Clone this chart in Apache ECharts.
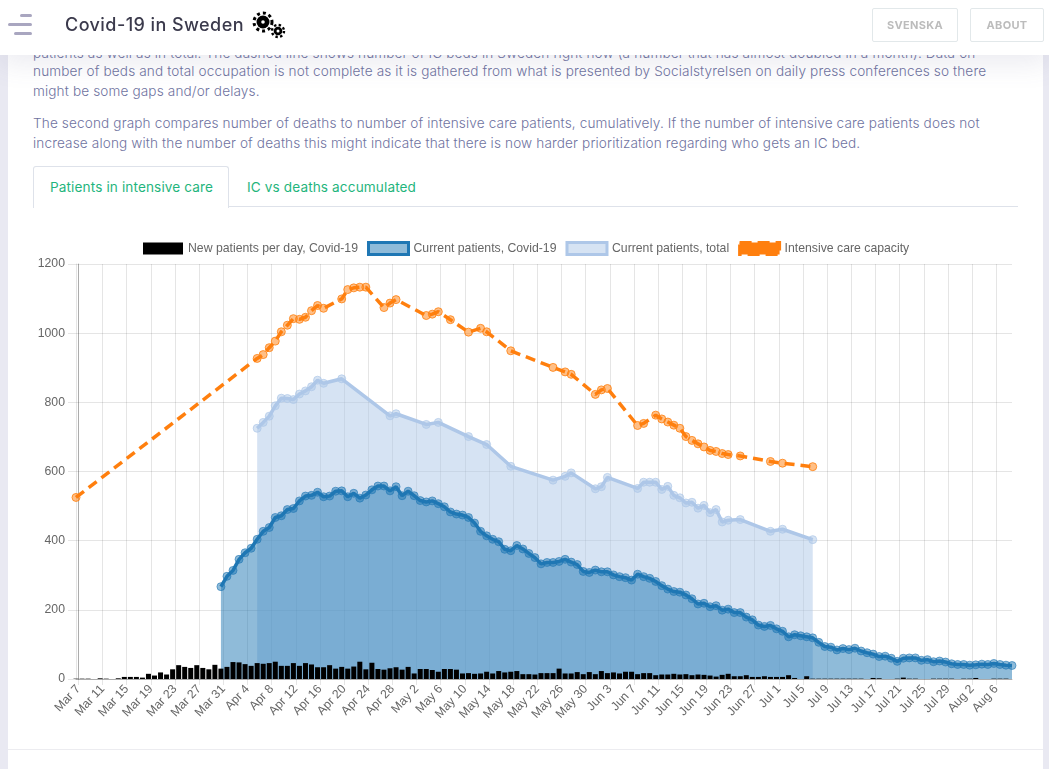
<!DOCTYPE html>
<html>
<head>
<meta charset="utf-8">
<title>Covid-19 in Sweden</title>
<script src="https://cdn.jsdelivr.net/npm/echarts@6/dist/echarts.min.js"></script>
<style>
html, body { margin: 0; padding: 0; width: 1049px; height: 769px; overflow: hidden; background: #e9e9f2; }
body { font-family: "Inter", sans-serif; }
#page { position: absolute; left: 8px; top: 0; width: 1035px; height: 769px; background: #fff; }
#main { position: absolute; left: 0; top: 0; width: 1049px; height: 769px; }
#top { position: absolute; left: 0; top: 0; width: 1049px; height: 55px; background: #fff; box-shadow: 0 8px 28px rgba(90,90,140,.13); }
.bar { position: absolute; height: 3px; border-radius: 2px; background: #a9a6c0; }
#title { position: absolute; left: 65px; top: 14px; font-size: 18px; font-weight: 500; color: #3b3a4c; white-space: nowrap; letter-spacing: .43px; }
.btn { position: absolute; top: 8px; height: 32px; border: 1px solid #e2e8ea; border-radius: 2px; font: 700 11px/32px "Inter"; color: #bcbcbc; text-align: center; letter-spacing: .3px; }
.txt { position: absolute; left: 33px; font-size: 13.6px; font-weight: 300; color: #6f739f; white-space: nowrap; line-height: 20px; letter-spacing: .13px; }
.tab { position: absolute; top: 179px; font-size: 13.6px; color: #1fb57d; white-space: nowrap; line-height: 16px; letter-spacing: .12px; }
#tabbox { position: absolute; left: 33px; top: 166px; width: 194px; height: 41px; border: 1px solid #dee2ea; border-bottom: 0; border-radius: 3px 3px 0 0; background: #fff; }
#tabline { position: absolute; left: 33px; top: 206px; width: 985px; height: 1px; background: #dee2ea; }
#foot { position: absolute; left: 8px; top: 749px; width: 1035px; height: 1px; background: #ececf0; }
</style>
</head>
<body>
<div id="page"></div>
<div class="txt" style="top:43px">patients as well as in total. The dashed line shows number of IC beds in Sweden right now (a number that has almost doubled in a month). Data on</div>
<div class="txt" style="top:61px">number of beds and total occupation is not complete as it is gathered from what is presented by Socialstyrelsen on daily press conferences so there</div>
<div class="txt" style="top:81px">might be some gaps and/or delays.</div>
<div class="txt" style="top:113px">The second graph compares number of deaths to number of intensive care patients, cumulatively. If the number of intensive care patients does not</div>
<div class="txt" style="top:133px">increase along with the number of deaths this might indicate that there is now harder prioritization regarding who gets an IC bed.</div>
<div id="tabline"></div>
<div id="tabbox"></div>
<div class="tab" style="left:50px">Patients in intensive care</div>
<div class="tab" style="left:247px">IC vs deaths accumulated</div>
<div id="foot"></div>
<div id="main"></div>
<div id="top">
  <div class="bar" style="left:20px;top:14px;width:12px"></div>
  <div class="bar" style="left:8px;top:23px;width:24px"></div>
  <div class="bar" style="left:14px;top:32px;width:18px"></div>
  <div id="title">Covid-19 in Sweden</div>
  <svg style="position:absolute;left:250px;top:10px" width="40" height="30">
    <circle cx="13" cy="12" r="6.5" fill="#000"/>
    <circle cx="13" cy="12" r="9" fill="none" stroke="#000" stroke-width="3" stroke-dasharray="3 3"/>
    <circle cx="13" cy="12" r="1.8" fill="#fff"/>
    <circle cx="28" cy="21" r="4.3" fill="#000"/>
    <circle cx="28" cy="21" r="6" fill="none" stroke="#000" stroke-width="2.4" stroke-dasharray="2.4 2.3"/>
    <circle cx="28" cy="21" r="1.5" fill="#fff"/>
  </svg>
  <div class="btn" style="left:872px;width:84px">SVENSKA</div>
  <div class="btn" style="left:970px;width:72px">ABOUT</div>
</div>
<script type="text/javascript">
// date labels, one per day from Mar 7 to Aug 9
var months = [['Mar', 7, 31], ['Apr', 1, 30], ['May', 1, 31], ['Jun', 1, 30], ['Jul', 1, 31], ['Aug', 1, 9]];
var categories = [];
months.forEach(function (m) {
    for (var d = m[1]; d <= m[2]; d++) categories.push(m[0] + ' ' + d);
});

var newPatients = [1, 1, 1, 0, 2, 1, 0, 2, 6, 6, 6, 4, 15, 10, 19, 13, 28, 40, 35, 32, 40, 32, 28, 41, 30, 35,
    49, 48, 43, 38, 46, 44, 46, 50, 38, 38, 46, 38, 46, 42, 34, 34, 40, 30, 35, 30, 36, 50, 28, 47, 29, 27,
    31, 34, 27, 35, 16, 29, 29, 26, 21, 29, 29, 27, 16, 17, 15, 16, 21, 16, 23, 19, 21, 23, 14, 14, 13, 17,
    17, 17, 30, 16, 16, 20, 14, 20, 14, 23, 17, 19, 16, 21, 21, 14, 17, 17, 11, 13, 13, 15, 13, 14, 11, 13,
    12, 10, 7, 12, 15, 8, 8, 11, 6, 6, 8, 6, 6, 6, 11, 3, 0, 8, 1, 1, 1, 1, 1, 1, 1, 1, 1, 0, 3, 2, 0, 0, 1,
    4, 1, 1, 0, 0, 1, 1, 1, 1, 0, 1, 1, 3, 0, 0, 1, 1, 1, 0];

// current patients start at index 24 (Mar 31)
var currentStart = 24;
var currentCovid = [267, 297, 314, 346, 365, 378, 404, 427, 438, 467, 472, 490, 493, 515, 529, 531, 540, 527,
    529, 543, 544, 527, 537, 523, 532, 547, 558, 558, 544, 556, 530, 543, 530, 516, 512, 515, 507, 498, 483,
    477, 474, 467, 451, 427, 414, 404, 397, 375, 371, 386, 376, 363, 351, 333, 337, 337, 340, 346, 338, 331,
    311, 308, 315, 310, 310, 301, 296, 293, 286, 303, 296, 291, 282, 270, 260, 253, 251, 243, 232, 217, 219,
    209, 212, 199, 202, 192, 192, 179, 171, 156, 152, 155, 145, 138, 122, 128, 125, 122, 119, 106, 94, 92,
    84, 88, 85, 89, 81, 76, 72, 65, 66, 60, 51, 60, 61, 61, 54, 56, 50, 52, 49, 44, 42, 42, 40, 41, 43, 42,
    45, 42, 40, 39];

// total and capacity are only reported on some days
var totalDays = [30, 31, 32, 33, 34, 35, 36, 37, 38, 39, 40, 41, 44, 52, 53, 58, 60, 65, 68, 72, 79, 81, 82, 86,
    87, 88, 93, 94, 95, 96, 97, 98, 99, 100, 101, 102, 103, 104, 105, 106, 107, 108, 110, 115, 117, 122];
var totalValues = [725, 742, 760, 790, 812, 811, 808, 824, 833, 845, 864, 855, 868, 761, 767, 736, 742, 701, 678,
    615, 575, 586, 596, 550, 556, 583, 551, 569, 569, 569, 548, 557, 531, 524, 509, 511, 494, 502, 481, 490,
    454, 459, 461, 427, 433, 403];

var capacityDays = [0, 30, 31, 32, 33, 34, 35, 36, 37, 38, 39, 40, 41, 44, 45, 46, 47, 48, 51, 52, 53, 58, 59, 60,
    62, 65, 67, 68, 72, 79, 81, 82, 86, 87, 88, 93, 94, 96, 97, 98, 99, 100, 101, 102, 103, 104, 105, 106, 107,
    108, 110, 115, 117, 122];
var capacityValues = [525, 927, 938, 958, 977, 1004, 1023, 1042, 1040, 1046, 1065, 1080, 1072, 1099, 1126, 1131,
    1133, 1133, 1074, 1087, 1097, 1051, 1055, 1062, 1039, 1003, 1014, 1004, 949, 901, 888, 881, 823, 836, 840,
    733, 739, 763, 752, 743, 734, 725, 701, 690, 680, 671, 661, 658, 652, 649, 645, 629, 624, 614];

var seriesNames = ['New patients per day, Covid-19', 'Current patients, Covid-19', 'Current patients, total', 'Intensive care capacity'];

function sparse(days, values) {
    var out = categories.map(function () { return null; });
    days.forEach(function (d, i) { out[d] = values[i]; });
    return out;
}
var currentData = categories.map(function (c, i) {
    var v = currentCovid[i - currentStart];
    return v === undefined ? null : v;
});

function lineSeries(name, data, color, fill, ring, z, dashed) {
    return {
        name: name, type: 'line', data: data, xAxisIndex: 0, yAxisIndex: 0, z: z,
        connectNulls: true, showAllSymbol: true, symbol: 'circle', symbolSize: 8,
        lineStyle: { color: color, width: 3.5, type: dashed ? [10, 6] : 'solid' },
        itemStyle: { color: fill, borderColor: ring, borderWidth: 1 },
        areaStyle: dashed ? undefined : { color: fill, opacity: 1, origin: 'start' }
    };
}

var myChart = echarts.init(document.getElementById('main'));
var tickColor = 'rgba(0,0,0,0.1)';
var strongColor = 'rgba(0,0,0,0.25)';
var labelSize = 12.25;
var option = {
    animation: false,
    textStyle: { fontFamily: 'Liberation Sans' },
    legend: {
        left: 138, top: 236, itemWidth: 40, itemHeight: 12, itemGap: 9, selectedMode: false,
        textStyle: { color: '#666', fontSize: labelSize, fontFamily: 'Liberation Sans' },
        data: [
            { name: seriesNames[0], icon: 'rect', itemStyle: { color: '#000', borderWidth: 0 } },
            { name: seriesNames[1], icon: 'rect', itemStyle: { color: 'rgba(31,119,180,0.5)', borderColor: '#1f77b4', borderWidth: 3 } },
            { name: seriesNames[2], icon: 'rect', itemStyle: { color: 'rgba(174,199,232,0.5)', borderColor: '#aec7e8', borderWidth: 3 } },
            { name: seriesNames[3], icon: 'rect', itemStyle: { color: '#ff7f0e', borderColor: '#ff7f0e', borderWidth: 3, borderType: 'dashed' } }
        ]
    },
    grid: [
        { left: 76, top: 264, width: 936, height: 415 },
        // tick labels and vertical lines sit a little right of the points, as in the original
        { left: 78.4, top: 264, width: 936, height: 415 }
    ],
    xAxis: [{
        type: 'category', gridIndex: 0, data: categories, boundaryGap: false,
        axisLine: { show: true, lineStyle: { color: strongColor, width: 1 } },
        axisTick: { show: false }, axisLabel: { show: false }, splitLine: { show: false }
    }, {
        type: 'category', gridIndex: 1, data: categories, boundaryGap: false,
        axisLine: { show: false },
        axisTick: { show: true, interval: 3, length: 6, lineStyle: { color: tickColor } },
        axisLabel: { interval: 3, rotate: 47, color: '#666', fontSize: labelSize, margin: 8, fontFamily: 'Liberation Sans' },
        splitLine: { show: true, interval: 3, lineStyle: { color: tickColor, width: 1 } }
    }],
    yAxis: [{
        type: 'value', gridIndex: 0, min: 0, max: 1200, interval: 200,
        axisLine: { show: true, lineStyle: { color: tickColor } },
        axisTick: { show: true, length: 8, lineStyle: { color: tickColor } },
        axisLabel: {
            color: '#666', fontSize: labelSize, margin: 11, fontFamily: 'Liberation Sans', padding: [2, 0, 0, 0],
            formatter: function (v) { return String(v); }
        },
        splitLine: { show: true, lineStyle: { color: tickColor, width: 1 } }
    }, {
        type: 'value', gridIndex: 1, min: 0, max: 1200, interval: 200,
        axisLine: { show: true, lineStyle: { color: strongColor } },
        axisTick: { show: false }, axisLabel: { show: false }, splitLine: { show: false }
    }],
    series: [
        {
            name: seriesNames[0], type: 'bar', data: newPatients, xAxisIndex: 0, yAxisIndex: 0,
            barWidth: 5, z: 5, itemStyle: { color: '#000' }
        },
        lineSeries(seriesNames[1], currentData, '#1f77b4', 'rgba(31,119,180,0.5)', 'rgba(31,119,180,0.6)', 4, false),
        lineSeries(seriesNames[2], sparse(totalDays, totalValues), '#aec7e8', 'rgba(174,199,232,0.5)', 'rgba(174,199,232,0.7)', 3, false),
        lineSeries(seriesNames[3], sparse(capacityDays, capacityValues), '#ff7f0e', 'rgba(255,127,14,0.5)', 'rgba(255,127,14,0.8)', 2, true)
    ]
};
myChart.setOption(option);
</script>
</body>
</html>
